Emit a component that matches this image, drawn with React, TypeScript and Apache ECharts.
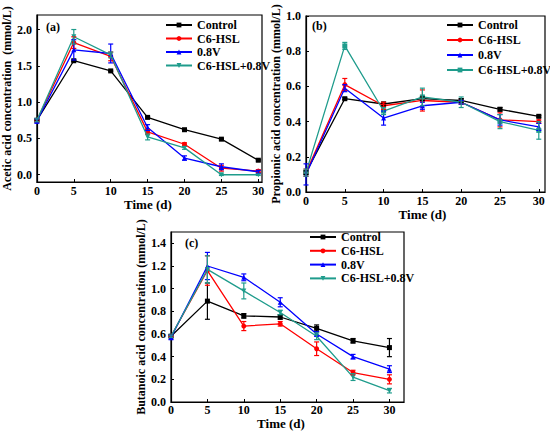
import React, { useEffect, useRef } from "react";
import * as echarts from "echarts";

const DAYS = [0, 5, 10, 15, 20, 25, 30];
const GROUPS = ["Control", "C6-HSL", "0.8V", "C6-HSL+0.8V"];
const COLORS = ["#000000", "#ff0000", "#0000ff", "#1f9c8c"];

// (a) Acetic acid
const aControl = [0.75, 1.57, 1.43, 0.79, 0.62, 0.49, 0.2];
const aC6 = [0.75, 1.82, 1.63, 0.59, 0.42, 0.09, 0.05];
const a08 = [0.74, 1.72, 1.67, 0.65, 0.23, 0.11, 0.04];
const aMix = [0.75, 1.9, 1.65, 0.52, 0.37, 0.0, 0.0];
const aControlErr = [0.01, 0.01, 0.01, 0.01, 0.01, 0.01, 0.01];
const aC6Err = [0.02, 0.08, 0.06, 0.03, 0.02, 0.04, 0.02];
const a08Err = [0.03, 0.14, 0.13, 0.04, 0.03, 0.04, 0.02];
const aMixErr = [0.02, 0.1, 0.04, 0.04, 0.02, 0.01, 0.01];

// (b) Propionic acid
const bControl = [0.11, 0.53, 0.5, 0.53, 0.52, 0.47, 0.43];
const bC6 = [0.11, 0.61, 0.49, 0.52, 0.51, 0.41, 0.4];
const b08 = [0.1, 0.59, 0.42, 0.49, 0.51, 0.41, 0.37];
const bMix = [0.11, 0.83, 0.46, 0.54, 0.51, 0.4, 0.35];
const bControlErr = [0.01, 0.005, 0.01, 0.01, 0.01, 0.01, 0.005];
const bC6Err = [0.02, 0.035, 0.02, 0.06, 0.01, 0.04, 0.01];
const b08Err = [0.06, 0.02, 0.04, 0.02, 0.01, 0.03, 0.02];
const bMixErr = [0.02, 0.02, 0.02, 0.05, 0.03, 0.04, 0.05];

// (c) Butanoic acid
const cControl = [0.58, 0.89, 0.76, 0.75, 0.65, 0.54, 0.48];
const cC6 = [0.58, 1.16, 0.67, 0.69, 0.47, 0.26, 0.2];
const c08 = [0.57, 1.2, 1.1, 0.88, 0.6, 0.4, 0.29];
const cMix = [0.58, 1.17, 0.98, 0.79, 0.58, 0.22, 0.1];
const cControlErr = [0.01, 0.16, 0.02, 0.02, 0.03, 0.02, 0.08];
const cC6Err = [0.01, 0.13, 0.04, 0.02, 0.06, 0.02, 0.04];
const c08Err = [0.02, 0.12, 0.03, 0.04, 0.02, 0.02, 0.03];
const cMixErr = [0.01, 0.12, 0.07, 0.02, 0.03, 0.03, 0.02];

const X_TICKS = [0, 5, 10, 15, 20, 25, 30];
const A_Y_TICKS = [0, 0.5, 1.0, 1.5, 2.0];
const B_Y_TICKS = [0, 0.2, 0.4, 0.6, 0.8, 1.0];
const C_Y_TICKS = [0, 0.2, 0.4, 0.6, 0.8, 1.0, 1.2, 1.4];

const FONT = "Liberation Serif";

const PANELS = [
  {
    key: "a",
    label: "(a)",
    yName: "Acetic acid concentration  (mmol/L)",
    values: [aControl, aC6, a08, aMix],
    errs: [aControlErr, aC6Err, a08Err, aMixErr],
    symbols: ["rect", "circle", "triangle", "triangle"],
    rotates: [0, 0, 0, 180],
  },
  {
    key: "b",
    label: "(b)",
    yName: "Propionic acid concentration (mmol/L)",
    values: [bControl, bC6, b08, bMix],
    errs: [bControlErr, bC6Err, b08Err, bMixErr],
    symbols: ["rect", "circle", "triangle", "rect"],
    rotates: [0, 0, 0, 0],
  },
  {
    key: "c",
    label: "(c)",
    yName: "Butanoic acid concentration (mmol/L)",
    values: [cControl, cC6, c08, cMix],
    errs: [cControlErr, cC6Err, c08Err, cMixErr],
    symbols: ["rect", "circle", "triangle", "triangle"],
    rotates: [0, 0, 0, 180],
  },
];

export default function App() {
  const ref = useRef<HTMLDivElement>(null);

  useEffect(() => {
    if (!ref.current) return;
    const chart = echarts.init(ref.current, undefined, { renderer: "svg" });

    const grids = [
      { left: 33, top: 15, width: 229, height: 167 },
      { left: 306, top: 16, width: 239, height: 176 },
      { left: 171, top: 232, width: 233, height: 170 },
    ].map((g) => ({
      ...g,
      show: true,
      borderColor: "#000",
      borderWidth: 1.2,
      backgroundColor: "transparent",
    }));

    const xCfg = [
      { max: 30.5, labelMargin: 3, nameGap: 14, pad: [0, 3, 0, 0] },
      { max: 30.8, labelMargin: 3, nameGap: 14, pad: [0, 6, 0, 0] },
      { max: 32, labelMargin: 2, nameGap: 14, pad: [0, 13, 0, 0] },
    ];
    const yCfg = [
      { min: -0.1, max: 2.2, ticks: A_Y_TICKS, nameGap: 19 },
      { min: 0, max: 1.0, ticks: B_Y_TICKS, nameGap: 22 },
      { min: 0, max: 1.5, ticks: C_Y_TICKS, nameGap: 20 },
    ];

    const axisLine = { show: true, onZero: false, lineStyle: { color: "#000", width: 1.2 } };
    const axisTick = (vals: number[]) => ({
      show: true,
      inside: true,
      length: 3,
      customValues: vals,
      lineStyle: { color: "#000", width: 1 },
    });

    const xAxis = xCfg.map((c, i) => ({
      type: "value",
      gridIndex: i,
      min: 0,
      max: c.max,
      axisLine,
      axisTick: axisTick(X_TICKS),
      axisLabel: {
        customValues: X_TICKS,
        margin: c.labelMargin,
        color: "#000",
        fontSize: 12,
        fontWeight: "bold",
        fontFamily: FONT,
      },
      splitLine: { show: false },
      name: "Time (d)",
      nameLocation: "middle",
      nameGap: c.nameGap,
      nameTextStyle: {
        color: "#000",
        fontSize: 13,
        fontWeight: "bold",
        fontFamily: FONT,
        padding: c.pad,
      },
    }));

    const yAxis = yCfg.map((c, i) => ({
      type: "value",
      gridIndex: i,
      min: c.min,
      max: c.max,
      axisLine,
      axisTick: axisTick(c.ticks),
      axisLabel: {
        customValues: c.ticks,
        formatter: (v: number) => v.toFixed(1),
        margin: 5,
        color: "#000",
        fontSize: 12,
        fontWeight: "bold",
        fontFamily: FONT,
      },
      splitLine: { show: false },
      name: PANELS[i].yName,
      nameLocation: "middle",
      nameGap: c.nameGap,
      nameTextStyle: {
        color: "#000",
        fontSize: 12,
        fontWeight: "bold",
        fontFamily: FONT,
      },
    }));

    const series: any[] = [];
    PANELS.forEach((p, pi) => {
      GROUPS.forEach((g, gi) => {
        const color = COLORS[gi];
        series.push({
          type: "line",
          name: p.key + "|" + g,
          xAxisIndex: pi,
          yAxisIndex: pi,
          data: DAYS.map((d, k) => [d, p.values[gi][k]]),
          symbol: p.symbols[gi],
          symbolSize: 5,
          symbolRotate: p.rotates[gi],
          lineStyle: { color, width: 1.3 },
          itemStyle: { color },
          z: 2 + gi,
        });
        series.push({
          type: "custom",
          name: p.key + "|" + g + "|err",
          xAxisIndex: pi,
          yAxisIndex: pi,
          silent: true,
          z: 6 + gi,
          encode: { x: 0, y: [1, 2] },
          data: DAYS.map((d, k) => [
            d,
            p.values[gi][k] - p.errs[gi][k],
            p.values[gi][k] + p.errs[gi][k],
          ]),
          renderItem: (params: any, api: any) => {
            const x = api.value(0);
            const lo = api.value(1);
            const hi = api.value(2);
            const t = api.coord([x, hi]);
            const b = api.coord([x, lo]);
            const w = 2.5;
            const st = { stroke: color, lineWidth: 1.2 };
            return {
              type: "group",
              children: [
                { type: "line", shape: { x1: t[0], y1: t[1], x2: b[0], y2: b[1] }, style: st },
                { type: "line", shape: { x1: t[0] - w, y1: t[1], x2: t[0] + w, y2: t[1] }, style: st },
                { type: "line", shape: { x1: b[0] - w, y1: b[1], x2: b[0] + w, y2: b[1] }, style: st },
              ],
            };
          },
        });
      });
    });

    const legendPos = [
      { left: 165, top: 19, itemGap: 1.5 },
      { left: 446, top: 19, itemGap: 3 },
      { left: 309, top: 231, itemGap: 1.8 },
    ];
    const legend = PANELS.map((p, pi) => ({
      orient: "vertical",
      left: legendPos[pi].left,
      top: legendPos[pi].top,
      itemGap: legendPos[pi].itemGap,
      itemWidth: 26,
      itemHeight: 6,
      padding: 0,
      data: GROUPS.map((g) => p.key + "|" + g),
      formatter: (name: string) => name.split("|")[1],
      textStyle: {
        color: "#000",
        fontSize: 12,
        fontWeight: "bold",
        fontFamily: FONT,
      },
      selectedMode: false,
    }));

    const graphic: any[] = [
      { left: 46, top: 21, text: "(a)" },
      { left: 312, top: 20, text: "(b)" },
      { left: 185, top: 237, text: "(c)" },
    ].map((g) => ({
      type: "text",
      left: g.left,
      top: g.top,
      style: {
        text: g.text,
        fill: "#000",
        fontSize: 12,
        fontWeight: "bold",
        fontFamily: FONT,
      },
    }));

    chart.setOption({
      animation: false,
      backgroundColor: "#fff",
      textStyle: { fontFamily: FONT },
      grid: grids,
      xAxis,
      yAxis,
      legend,
      graphic,
      series,
    });

    return () => chart.dispose();
  }, []);

  return (
    <div
      ref={ref}
      style={{ position: "fixed", left: 0, top: 0, width: 550, height: 432, background: "#fff" }}
    />
  );
}
